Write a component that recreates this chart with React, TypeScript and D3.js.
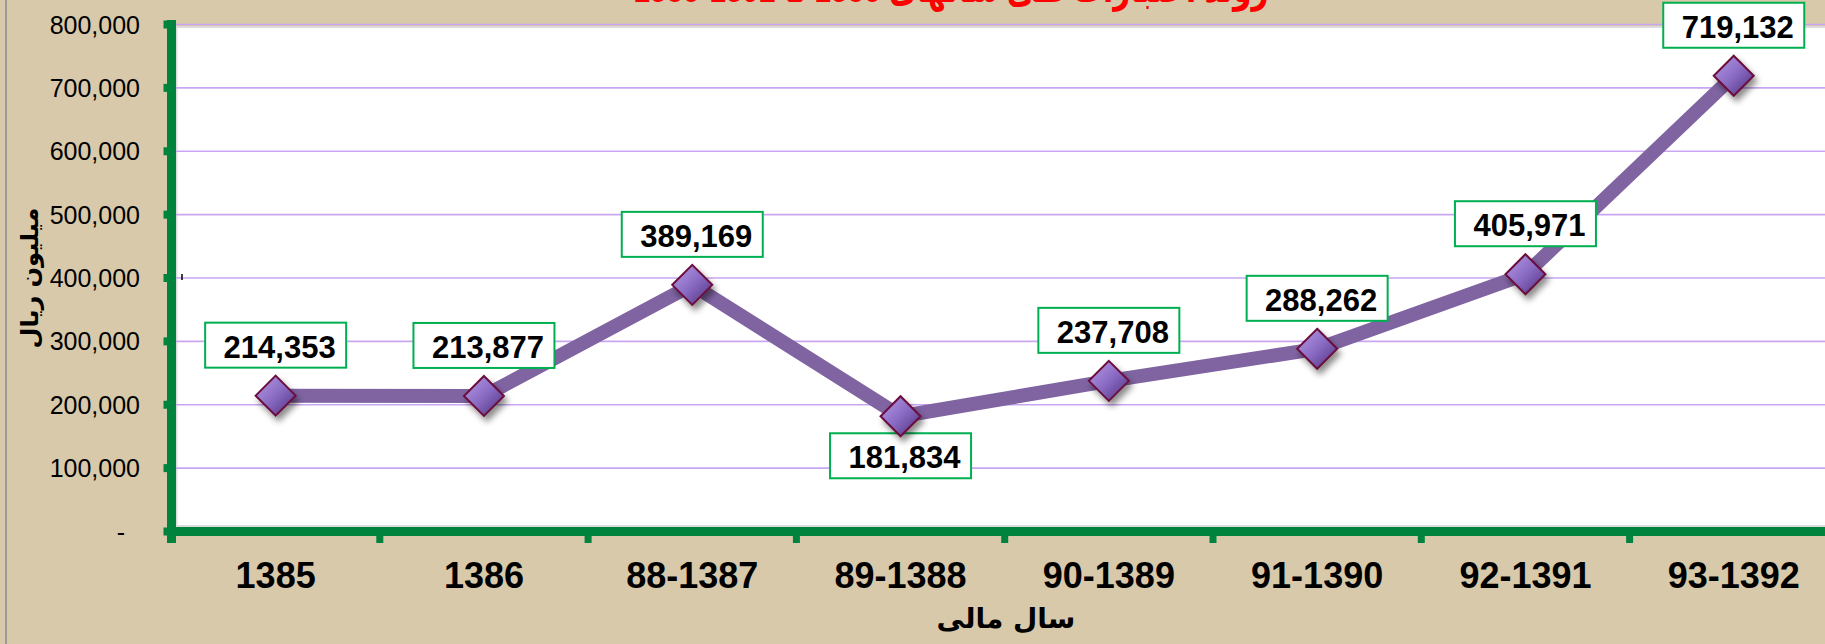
import * as d3 from "d3";
import React from "react";

// values
const categories = ["1385", "1386", "88-1387", "89-1388", "90-1389", "91-1390", "92-1391", "93-1392"];
const values = [214353, 213877, 389169, 181834, 237708, 288262, 405971, 719132];
const labelBelow = [false, false, false, true, false, false, false, false];
const yTicks = [0, 100000, 200000, 300000, 400000, 500000, 600000, 700000, 800000];

const chartTitle = "روند اعتبارات طی سالهای 1385 تا 1392-1385";
const yTitle = "میلیون ریال";
const xTitle = "سال مالی";

const W = 1825;
const H = 644;
const FONT = "'Liberation Sans', Arial, 'DejaVu Sans', sans-serif";

const App: React.FC = () => {
	const left = 171.5;
	const band = 208.3;
	const x = d3
		.scaleBand<string>()
		.domain(categories)
		.range([left, left + band * categories.length]);
	const y = d3.scaleLinear().domain([0, 800000]).range([531.5, 24.5]);
	const fmt = d3.format(",");

	const cx = (i: number) => (x(categories[i]) || 0) + x.bandwidth() / 2;
	const pts: [number, number][] = values.map((v, i) => [cx(i), y(v)]);
	const line = d3.line();
	const right = left + band * categories.length;

	return (
		<svg
			width={W}
			height={H}
			style={{ position: "absolute", left: 0, top: 0, display: "block" }}>
			<defs>
				<linearGradient id="dia" x1="0" y1="0" x2="1" y2="1">
					<stop offset="0%" stopColor="#b89ce6" />
					<stop offset="50%" stopColor="#8a6bc4" />
					<stop offset="100%" stopColor="#4a2c78" />
				</linearGradient>
				<filter id="shadow" x="-50%" y="-50%" width="200%" height="200%">
					<feDropShadow dx="3" dy="5" stdDeviation="3" floodColor="#000" floodOpacity="0.45" />
				</filter>
			</defs>
			<rect width={W} height={H} fill="#d8c9aa" />
			<line x1={6} x2={6} y1={0} y2={H} stroke="#9a9a9a" strokeWidth={2} />

			{/* title, cut off at the top like in the source */}
			<text
				x={951}
				y={2}
				textAnchor="middle"
				direction="rtl"
				textLength={635}
				lengthAdjust="spacingAndGlyphs"
				fontFamily={FONT}
				fontWeight="bold"
				fontSize={40}
				fill="#ff0000">
				{chartTitle}
			</text>

			{/* plot area */}
			<rect x={left} y={26} width={right - left} height={505} fill="#dcdcdc" />
			<rect x={left + 6} y={28} width={right - left} height={497} fill="#fff" />

			{yTicks.slice(1).map((t) => (
				<line
					key={t}
					x1={left}
					x2={right}
					y1={y(t)}
					y2={y(t)}
					stroke="#c9a6f2"
					strokeWidth={1.6}
				/>
			))}

			{/* axes */}
			<line x1={left} x2={left} y1={20} y2={543} stroke="#00843d" strokeWidth={9} />
			<line x1={left - 4.5} x2={right} y1={531.5} y2={531.5} stroke="#00843d" strokeWidth={9} />
			{yTicks.map((t) => (
				<rect key={t} x={left - 8} y={y(t) - 4} width={8} height={8} fill="#00843d" />
			))}
			{categories.map((c) => (
				<rect key={c} x={(x(c) || 0) - 3.5} y={531} width={7} height={12} fill="#00843d" />
			))}

			{yTicks.map((t) => (
				<text
					key={t}
					x={t === 0 ? 125 : 140}
					y={y(t) + 9}
					textAnchor="end"
					fontFamily={FONT}
					fontSize={25}
					fill="#000">
					{t === 0 ? "-" : fmt(t)}
				</text>
			))}
			<line x1={182} x2={182} y1={274} y2={280} stroke="#000" strokeWidth={1.5} />

			{categories.map((c, i) => (
				<text
					key={c}
					x={cx(i)}
					y={588}
					textAnchor="middle"
					fontFamily={FONT}
					fontWeight="bold"
					fontSize={36}
					fill="#000">
					{c}
				</text>
			))}

			<text
				x={1006}
				y={628}
				textAnchor="middle"
				direction="rtl"
				fontFamily="'DejaVu Sans', sans-serif"
				fontWeight="bold"
				fontSize={28}
				fill="#000">
				{xTitle}
			</text>
			<text
				transform="translate(38, 278) rotate(-90)"
				textAnchor="middle"
				direction="rtl"
				fontFamily="'DejaVu Sans', sans-serif"
				fontWeight="bold"
				fontSize={24}
				fill="#000">
				{yTitle}
			</text>

			{/* series line */}
			<path d={line(pts) || ""} fill="none" stroke="#8064a2" strokeWidth={14} strokeLinejoin="round" />

			{/* data labels */}
			{values.map((v, i) => {
				const [px, py] = pts[i];
				const top = labelBelow[i] ? py + 17 : py - 73;
				return (
					<g key={i}>
						<rect
							x={px - 70.5}
							y={top}
							width={141}
							height={45}
							fill="#fff"
							stroke="#00b050"
							strokeWidth={2}
						/>
						<text
							x={px + 4}
							y={top + 35}
							textAnchor="middle"
							fontFamily={FONT}
							fontWeight="bold"
							fontSize={31}
							fill="#000">
							{fmt(v)}
						</text>
					</g>
				);
			})}

			{/* markers */}
			{pts.map(([px, py], i) => (
				<path
					key={i}
					d={`M${px},${py - 20}L${px + 20},${py}L${px},${py + 20}L${px - 20},${py}Z`}
					fill="url(#dia)"
					stroke="#6b0f3c"
					strokeWidth={2}
					filter="url(#shadow)"
				/>
			))}
		</svg>
	);
};

export default App;
